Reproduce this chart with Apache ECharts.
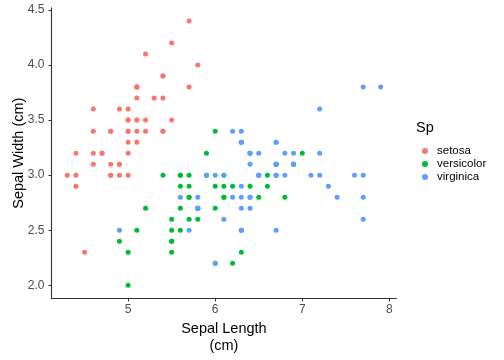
<!DOCTYPE html>
<html><head><meta charset="utf-8">
<script src="https://cdn.jsdelivr.net/npm/echarts@6/dist/echarts.min.js"></script>
<style>html,body{margin:0;padding:0;background:#fff}#c{width:504px;height:360px}</style>
</head><body><div id="c"></div>
<script>
const species = ['setosa','versicolor','virginica'];
const setosaLength = [5.1,4.9,4.7,4.6,5.0,5.4,4.6,5.0,4.4,4.9,5.4,4.8,4.8,4.3,5.8,5.7,5.4,5.1,5.7,5.1,5.4,5.1,4.6,5.1,4.8,5.0,5.0,5.2,5.2,4.7,4.8,5.4,5.2,5.5,4.9,5.0,5.5,4.9,4.4,5.1,5.0,4.5,4.4,5.0,5.1,4.8,5.1,4.6,5.3,5.0];
const setosaWidth  = [3.5,3.0,3.2,3.1,3.6,3.9,3.4,3.4,2.9,3.1,3.7,3.4,3.0,3.0,4.0,4.4,3.9,3.5,3.8,3.8,3.4,3.7,3.6,3.3,3.4,3.0,3.4,3.5,3.4,3.2,3.1,3.4,4.1,4.2,3.1,3.2,3.5,3.6,3.0,3.4,3.5,2.3,3.2,3.5,3.8,3.0,3.8,3.2,3.7,3.3];
const versicolorLength = [7.0,6.4,6.9,5.5,6.5,5.7,6.3,4.9,6.6,5.2,5.0,5.9,6.0,6.1,5.6,6.7,5.6,5.8,6.2,5.6,5.9,6.1,6.3,6.1,6.4,6.6,6.8,6.7,6.0,5.7,5.5,5.5,5.8,6.0,5.4,6.0,6.7,6.3,5.6,5.5,5.5,6.1,5.8,5.0,5.6,5.7,5.7,6.2,5.1,5.7];
const versicolorWidth  = [3.2,3.2,3.1,2.3,2.8,2.8,3.3,2.4,2.9,2.7,2.0,3.0,2.2,2.9,2.9,3.1,3.0,2.7,2.2,2.5,3.2,2.8,2.5,2.8,2.9,3.0,2.8,3.0,2.9,2.6,2.4,2.4,2.7,2.7,3.0,3.4,3.1,2.3,3.0,2.5,2.6,3.0,2.6,2.3,2.7,3.0,2.9,2.9,2.5,2.8];
const virginicaLength = [6.3,5.8,7.1,6.3,6.5,7.6,4.9,7.3,6.7,7.2,6.5,6.4,6.8,5.7,5.8,6.4,6.5,7.7,7.7,6.0,6.9,5.6,7.7,6.3,6.7,7.2,6.2,6.1,6.4,7.2,7.4,7.9,6.4,6.3,6.1,7.7,6.3,6.4,6.0,6.9,6.7,6.9,5.8,6.8,6.7,6.7,6.3,6.5,6.2,5.9];
const virginicaWidth  = [3.3,2.7,3.0,2.9,3.0,3.0,2.5,2.9,2.5,3.6,3.2,2.7,3.0,2.5,2.8,3.2,3.0,3.8,2.6,2.2,3.2,2.8,2.8,2.7,3.3,3.2,2.8,3.0,2.8,3.0,2.8,3.8,2.8,2.8,2.6,3.0,3.4,3.1,3.0,3.1,3.1,3.1,2.7,3.2,3.3,3.0,2.5,3.0,3.4,3.0];
const xTicks = [5,6,7,8];
const yTicks = [2.0,2.5,3.0,3.5,4.0,4.5];
const colors = ['#F8766D','#00BA38','#619CFF'];

const lengths = [setosaLength, versicolorLength, virginicaLength];
const widths = [setosaWidth, versicolorWidth, virginicaWidth];
const series = species.map((s,i)=>({
  name: s, type:'scatter', symbolSize:5,
  itemStyle:{color:colors[i], opacity:1},
  emphasis:{disabled:true},
  data: lengths[i].map((x,j)=>[x, widths[i][j]])
}));

const chart = echarts.init(document.getElementById('c'), null, {renderer:'canvas'});
const FF = 'Liberation Sans, Arial, sans-serif';
const axisTxt = {color:'#4d4d4d', fontSize:12, fontFamily:FF};
chart.setOption({
  animation:false,
  grid:{left:51.5, right:107.7, top:7.8, bottom:61.5, containLabel:false, outerBoundsMode:'none'},
  xAxis:{type:'value', min:4.12, max:8.08,
    name:'Sepal Length\n(cm)', nameLocation:'middle', nameGap:21,
    nameTextStyle:{color:'#000', fontSize:14.5, lineHeight:17, fontFamily:FF},
    axisLine:{show:true, lineStyle:{color:'#333', width:1.1}},
    axisTick:{show:true, length:3, lineStyle:{color:'#333'}, customValues:xTicks},
    axisLabel:{show:true, margin:5.5, customValues:xTicks, ...axisTxt},
    splitLine:{show:false}},
  yAxis:{type:'value', min:1.88, max:4.52,
    name:'Sepal Width (cm)', nameLocation:'middle', nameGap:25, nameRotate:90, nameMoveOverlap:false,
    nameTextStyle:{color:'#000', fontSize:14.5, fontFamily:FF},
    axisLine:{show:true, lineStyle:{color:'#333', width:1.1}},
    axisTick:{show:true, length:3, lineStyle:{color:'#333'}, customValues:yTicks},
    axisLabel:{show:true, margin:7, customValues:yTicks, formatter:v=>Number(v).toFixed(1), ...axisTxt},
    splitLine:{show:false}},
  legend:{orient:'vertical', left:417, top:140, icon:'circle', itemWidth:6, itemHeight:6, itemGap:1,
    data:species, selectedMode:false,
    textStyle:{color:'#000', fontSize:11.5, fontFamily:FF, padding:[0,0,0,4]}},
  graphic:[{type:'text', left:416, top:120, style:{text:'Sp', fill:'#000', fontSize:14.5, fontFamily:FF}}],
  series: series
});
</script></body></html>
